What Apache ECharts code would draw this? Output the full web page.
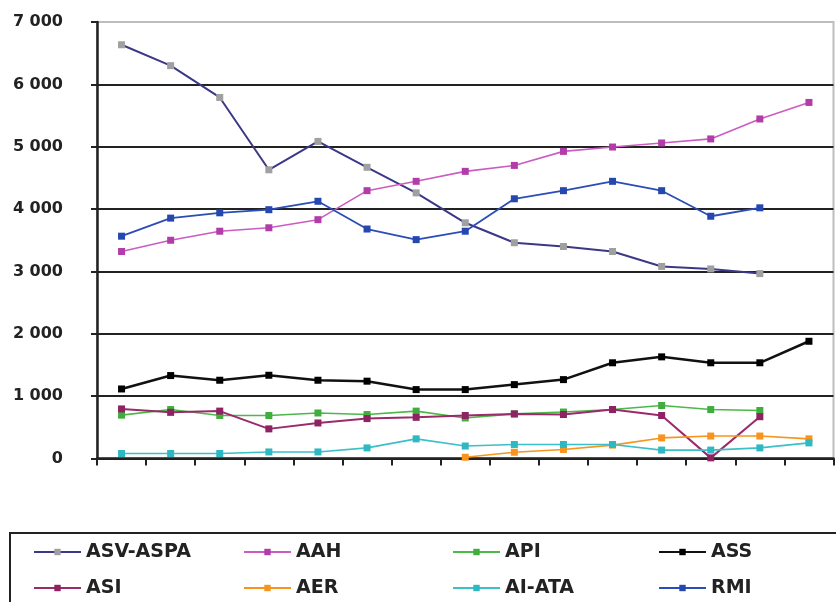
<!DOCTYPE html>
<html>
<head>
<meta charset="utf-8">
<script src="https://cdn.jsdelivr.net/npm/echarts@6/dist/echarts.min.js"></script>
<style>html,body{margin:0;padding:0;background:#fff;}#c{width:836px;height:602px;}</style>
</head>
<body>
<div id="c"></div>
<script>
var categories = ['1','2','3','4','5','6','7','8','9','10','11','12','13','14','15'];
var yTicks = [0, 1000, 2000, 3000, 4000, 5000, 6000, 7000];

var asvAspa = [6635, 6300, 5790, 4630, 5085, 4670, 4260, 3780, 3460, 3400, 3320, 3080, 3040, 2965, null];
var aah     = [3320, 3500, 3645, 3700, 3830, 4295, 4445, 4605, 4700, 4925, 4995, 5060, 5125, 5445, 5710];
var api     = [695, 785, 690, 690, 730, 705, 760, 650, 715, 745, 785, 850, 785, 770, null];
var ass     = [1115, 1330, 1255, 1335, 1255, 1240, 1105, 1105, 1185, 1265, 1535, 1630, 1535, 1535, 1880];
var asi     = [795, 740, 760, 475, 570, 640, 660, 690, 715, 705, 785, 690, 10, 670, null];
var aer     = [null, null, null, null, null, null, null, 20, 100, 145, 215, 330, 360, 360, 315];
var aiAta   = [80, 80, 80, 105, 105, 170, 315, 200, 225, 225, 225, 135, 135, 170, 250];
var rmi     = [3565, 3855, 3940, 3990, 4125, 3680, 3510, 3645, 4165, 4295, 4445, 4295, 3885, 4020, null];

var seriesNames = ['ASV-ASPA', 'AAH', 'API', 'ASS', 'ASI', 'AER', 'AI-ATA', 'RMI'];
var seriesData = [asvAspa, aah, api, ass, asi, aer, aiAta, rmi];
var lineColors = ['#3c3888', '#cc5cc2', '#4cb848', '#111111', '#9a2a6c', '#f7941d', '#3bc0c9', '#2b4db5'];
var markerColors = ['#a0a0a0', '#b23ca8', '#3fae3c', '#000000', '#8e2262', '#f7941d', '#2fb8c2', '#2447b0'];
var lineWidths = [2, 1.6, 1.6, 2.5, 2, 1.6, 1.6, 1.8];

var legendCols = [33, 243, 452, 658];
var legendRows = [542, 578];

var series = seriesNames.map(function (n, i) {
  return {
    name: n,
    type: 'line',
    data: seriesData[i],
    symbol: 'rect',
    symbolSize: 7,
    showAllSymbol: true,
    connectNulls: false,
    lineStyle: { color: lineColors[i], width: lineWidths[i] },
    itemStyle: { color: markerColors[i] },
    emphasis: { disabled: true }
  };
});

var legends = seriesNames.map(function (n, i) {
  return {
    data: [n],
    left: legendCols[i % 4],
    top: legendRows[Math.floor(i / 4)],
    padding: 0,
    itemWidth: 47,
    itemHeight: 8,
    selectedMode: false,
    textStyle: { fontFamily: 'DejaVu Sans', fontWeight: 'bold', fontSize: 19, color: '#222', lineHeight: 20 }
  };
});

var chart = echarts.init(document.getElementById('c'), null, { renderer: 'canvas' });
chart.setOption({
  animation: false,
  backgroundColor: '#fff',
  grid: { left: 97, top: 22, right: 2.5, bottom: 143.5, show: true, borderColor: '#bdbdbd', borderWidth: 2, backgroundColor: 'transparent' },
  xAxis: {
    type: 'category',
    data: categories,
    boundaryGap: true,
    axisLine: { lineStyle: { color: '#222', width: 2.5 } },
    axisTick: { show: true, length: 7, inside: false, alignWithLabel: false, lineStyle: { color: '#222', width: 2 } },
    axisLabel: { show: false },
    splitLine: { show: false }
  },
  yAxis: {
    type: 'value',
    min: yTicks[0],
    max: yTicks[yTicks.length - 1],
    interval: 1000,
    axisLine: { show: true, lineStyle: { color: '#222', width: 2.5 } },
    axisTick: { show: true, length: 6, lineStyle: { color: '#222', width: 2 } },
    axisLabel: {
      margin: 34,
      fontFamily: 'DejaVu Sans', fontWeight: 'bold', fontSize: 16, color: '#222',
      formatter: function (v) { return String(v).replace(/\B(?=(\d{3})+(?!\d))/g, ' '); }
    },
    splitLine: { show: true, showMaxLine: false, lineStyle: { color: '#222', width: 2 } }
  },
  legend: legends,
  graphic: [{
    type: 'rect',
    shape: { x: 10, y: 533, width: 900, height: 200 },
    style: { fill: 'none', stroke: '#222', lineWidth: 2 },
    silent: true
  }],
  series: series
});
</script>
</body>
</html>
